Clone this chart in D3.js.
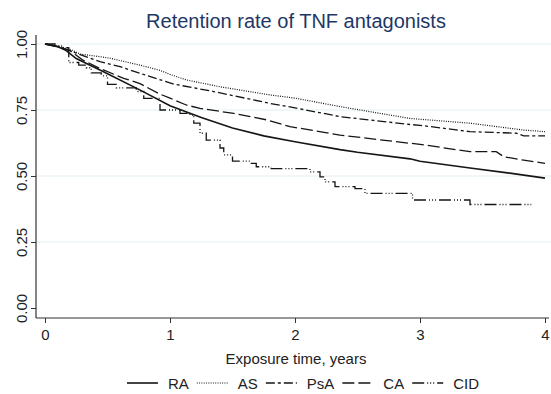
<!DOCTYPE html>
<html>
<head>
<meta charset="utf-8">
<script src="https://cdn.jsdelivr.net/npm/d3@7"></script>
<style>
  body { margin: 0; background: #fff; }
  svg { display: block; font-family: "Liberation Sans", Arial, sans-serif; }
</style>
</head>
<body>
<svg id="chart" width="551" height="394"></svg>
<script>
// Kaplan-Meier style retention curves
const raTime = [0, 0.1, 0.17, 0.25, 0.46, 0.75, 1, 1.25, 1.5, 1.75, 2, 2.36, 2.5, 2.92, 3, 3.4, 3.7, 4];
const raRate = [1, 0.99, 0.975, 0.945, 0.897, 0.828, 0.766, 0.722, 0.682, 0.652, 0.63, 0.6, 0.59, 0.565, 0.556, 0.53, 0.512, 0.492];

const asTime = [0, 0.1, 0.2, 0.28, 0.44, 0.52, 0.76, 0.92, 1, 1.13, 1.4, 1.8, 2, 2.36, 2.92, 3, 3.4, 3.83, 4];
const asRate = [1, 0.993, 0.98, 0.962, 0.952, 0.946, 0.92, 0.9, 0.885, 0.864, 0.838, 0.807, 0.795, 0.763, 0.718, 0.715, 0.7, 0.674, 0.668];

const psaTime = [0, 0.1, 0.2, 0.25, 0.44, 0.6, 0.76, 1.03, 1.35, 1.61, 1.8, 2, 2.36, 2.92, 3, 3.4, 3.77, 3.83, 4];
const psaRate = [1, 0.99, 0.975, 0.965, 0.933, 0.914, 0.889, 0.848, 0.82, 0.794, 0.775, 0.758, 0.725, 0.695, 0.692, 0.668, 0.662, 0.652, 0.652];

const caTime = [0, 0.1, 0.2, 0.3, 0.45, 0.63, 0.76, 0.92, 1, 1.13, 1.24, 1.51, 1.78, 1.96, 2.36, 2.92, 3, 3.4, 3.61, 3.67, 3.83, 4];
const caRate = [1, 0.99, 0.975, 0.94, 0.905, 0.87, 0.85, 0.81, 0.795, 0.769, 0.756, 0.737, 0.712, 0.687, 0.655, 0.624, 0.62, 0.592, 0.592, 0.573, 0.56, 0.548];

const cidTime = [0, 0.08, 0.14, 0.19, 0.27, 0.33, 0.37, 0.45, 0.5, 0.57, 0.73, 0.79, 0.92, 1.08, 1.16, 1.19, 1.24, 1.29, 1.4, 1.43, 1.5, 1.64, 1.69, 1.81, 2.12, 2.2, 2.24, 2.32, 2.48, 2.56, 2.94, 3.4, 3.89];
const cidRate = [1, 0.993, 0.986, 0.93, 0.92, 0.91, 0.891, 0.879, 0.847, 0.834, 0.82, 0.794, 0.75, 0.737, 0.731, 0.7, 0.662, 0.636, 0.606, 0.58, 0.556, 0.548, 0.535, 0.528, 0.516, 0.497, 0.478, 0.46, 0.452, 0.434, 0.409, 0.392, 0.392];

const xTicks = [0, 1, 2, 3, 4];
const yTicks = [0, 0.25, 0.5, 0.75, 1];

const series = [
  { name: "RA",  t: raTime,  s: raRate,  dash: null,               width: 1.6, step: false },
  { name: "AS",  t: asTime,  s: asRate,  dash: "1,1.3",            width: 1.2, step: false },
  { name: "PsA", t: psaTime, s: psaRate, dash: "9,3,3,3",          width: 1.3, step: false },
  { name: "CA",  t: caTime,  s: caRate,  dash: "12,4",             width: 1.3, step: false },
  { name: "CID", t: cidTime, s: cidRate, dash: "12,3,1,2,1,2,1,3", width: 1.3, step: true }
];

const svg = d3.select("#chart");
const plotL = 36, plotR = 549, plotT = 35, plotB = 318;
const fs = 15;

const x = d3.scaleLinear().domain([0, 4]).range([45, 545]);
const y = d3.scaleLinear().domain([0, 1]).range([308, 44]);

// title
svg.append("text")
  .attr("x", 296).attr("y", 28)
  .attr("text-anchor", "middle")
  .attr("font-size", 20)
  .attr("fill", "#1e3765")
  .text("Retention rate of TNF antagonists");

// grid lines
svg.append("g").selectAll("line")
  .data(yTicks.filter(d => d > 0))
  .enter().append("line")
  .attr("x1", plotL).attr("x2", 551)
  .attr("y1", d => y(d)).attr("y2", d => y(d))
  .attr("stroke", "#e2eff3").attr("stroke-width", 1);

// axes
const xAxis = svg.append("g")
  .attr("transform", "translate(0," + plotB + ")")
  .call(d3.axisBottom(x).tickValues(xTicks).tickFormat(d3.format("d")).tickSize(5).tickPadding(6));
xAxis.select(".domain").remove();
xAxis.selectAll("text").attr("font-size", fs).attr("fill", "#222").style("font-family", "Liberation Sans, Arial, sans-serif");
xAxis.selectAll("line").attr("stroke", "#333");

const yAxis = svg.append("g")
  .attr("transform", "translate(" + plotL + ",0)")
  .call(d3.axisLeft(y).tickValues(yTicks).tickFormat(d3.format(".2f")).tickSize(5));
yAxis.select(".domain").remove();
yAxis.selectAll("line").attr("stroke", "#333");
yAxis.selectAll("text")
  .attr("font-size", fs).attr("fill", "#222")
  .style("font-family", "Liberation Sans, Arial, sans-serif")
  .attr("text-anchor", "middle")
  .attr("x", 0).attr("y", -9).attr("dy", 0)
  .attr("transform", "rotate(-90)");

svg.append("line").attr("x1", plotL).attr("x2", plotL).attr("y1", plotT).attr("y2", plotB)
  .attr("stroke", "#333").attr("stroke-width", 1.2);
svg.append("line").attr("x1", plotL).attr("x2", plotR).attr("y1", plotB).attr("y2", plotB)
  .attr("stroke", "#333").attr("stroke-width", 1.2);

// x title
svg.append("text")
  .attr("x", 296).attr("y", 364)
  .attr("text-anchor", "middle")
  .attr("font-size", fs).attr("fill", "#222")
  .text("Exposure time, years");

// curves
series.forEach(sr => {
  const pts = sr.t.map((t, i) => [t, sr.s[i]]);
  const line = d3.line()
    .x(d => x(d[0])).y(d => y(d[1]))
    .curve(sr.step ? d3.curveStepAfter : d3.curveLinear);
  svg.append("path")
    .attr("d", line(pts))
    .attr("fill", "none")
    .attr("stroke", "#151515")
    .attr("stroke-width", sr.width)
    .attr("stroke-dasharray", sr.dash);
});

// legend
const lg = svg.append("g");
let cx = 0;
series.forEach(sr => {
  lg.append("line")
    .attr("x1", cx).attr("x2", cx + 31).attr("y1", 0).attr("y2", 0)
    .attr("stroke", "#151515").attr("stroke-width", sr.width)
    .attr("stroke-dasharray", sr.dash);
  const t = lg.append("text")
    .attr("x", cx + 41).attr("y", 5.5)
    .attr("font-size", fs).attr("fill", "#222")
    .text(sr.name);
  cx += 41 + t.node().getComputedTextLength() + 8;
});
const lgWidth = cx - 8;
lg.attr("transform", "translate(" + (303 - lgWidth / 2) + ",383)");
</script>
</body>
</html>
